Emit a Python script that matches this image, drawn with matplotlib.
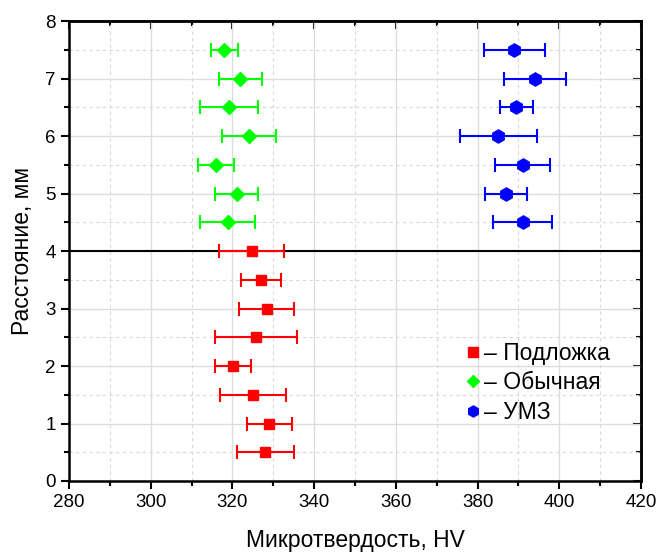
import matplotlib.pyplot as plt
from matplotlib.lines import Line2D
from matplotlib.ticker import MultipleLocator

plt.rcParams['font.family'] = ['Liberation Sans', 'DejaVu Sans']

# Подложка (substrate)
sub_y = [4.0, 3.5, 3.0, 2.5, 2.0, 1.5, 1.0, 0.5]
sub_hv = [324.7, 327.0, 328.4, 325.7, 320.1, 325.1, 329.0, 328.0]
sub_err = [8.0, 4.9, 6.7, 10.0, 4.35, 8.05, 5.5, 7.0]

# Обычная
norm_y = [7.5, 7.0, 6.5, 6.0, 5.5, 5.0, 4.5]
norm_hv = [318.0, 321.9, 319.1, 324.1, 316.0, 321.0, 318.8]
norm_err = [3.25, 5.3, 7.05, 6.55, 4.4, 5.15, 6.7]

# УМЗ
umz_y = [7.5, 7.0, 6.5, 6.0, 5.5, 5.0, 4.5]
umz_hv = [389.0, 394.0, 389.5, 385.1, 391.0, 387.0, 391.0]
umz_err = [7.55, 7.55, 4.0, 9.5, 6.7, 5.2, 7.3]

fig = plt.figure(figsize=(6.59, 5.53), dpi=100)
ax = fig.add_axes([0.1047, 0.1302, 0.868, 0.8318])

ax.set_xlim(280, 420)
ax.set_ylim(0, 8)
ax.xaxis.set_major_locator(MultipleLocator(20))
ax.xaxis.set_minor_locator(MultipleLocator(10))
ax.yaxis.set_major_locator(MultipleLocator(1))
ax.yaxis.set_minor_locator(MultipleLocator(0.5))

ax.grid(which='major', color='#dddddd', lw=1.0, ls='-')
ax.grid(which='minor', color='#d8d8d8', lw=0.8, ls=(0, (3, 3)))
ax.set_axisbelow(True)

ax.axhline(4, color='black', lw=1.5, zorder=1.5)

eb = dict(ls='none', elinewidth=1.5, capsize=5, capthick=1.5, zorder=3)
ax.errorbar(sub_hv, sub_y, xerr=sub_err, color='#ff0000', marker='s', ms=7.5, **eb)
ax.errorbar(norm_hv, norm_y, xerr=norm_err, color='#00ff00', marker='D', ms=7, **eb)
ax.errorbar(umz_hv, umz_y, xerr=umz_err, color='#0000ff', marker='h', ms=9.5, **eb)

for s in ax.spines.values():
    s.set_linewidth(1.8)

ax.tick_params(which='both', direction='out', top=False, right=False, labelsize=13.5, width=1.5)
ax.tick_params(which='major', length=6)
ax.tick_params(which='minor', length=3.5)
# inward ticks on top and right
axt = ax.secondary_xaxis('top')
axt.xaxis.set_major_locator(MultipleLocator(20))
axt.xaxis.set_minor_locator(MultipleLocator(10))
axt.tick_params(which='both', direction='in', labeltop=False, width=1.5)
axt.tick_params(which='major', length=6)
axt.tick_params(which='minor', length=3.5)
axt.spines['top'].set_linewidth(1.8)
axr = ax.secondary_yaxis('right')
axr.yaxis.set_major_locator(MultipleLocator(1))
axr.yaxis.set_minor_locator(MultipleLocator(0.5))
axr.tick_params(which='both', direction='in', labelright=False, width=1.5)
axr.tick_params(which='major', length=6)
axr.tick_params(which='minor', length=3.5)
axr.spines['right'].set_linewidth(1.8)

ax.set_xlabel('Микротвердость, HV', fontsize=16.5, labelpad=12.5)
ax.set_ylabel('Расстояние, мм', fontsize=16.5, labelpad=8)

handles = [
    Line2D([], [], ls='none', marker='s', color='#ff0000', ms=7),
    Line2D([], [], ls='none', marker='D', color='#00ff00', ms=6),
    Line2D([], [], ls='none', marker='h', color='#0000ff', ms=8),
]
labels = ['– Подложка', '– Обычная', '– УМЗ']
ax.legend(handles, labels, loc='upper left', bbox_to_anchor=(0.678, 0.322),
          frameon=False, fontsize=16.5, handlelength=0.6, handletextpad=0.2,
          labelspacing=0.28, borderaxespad=0)

fig.savefig('out.png', dpi=100)
